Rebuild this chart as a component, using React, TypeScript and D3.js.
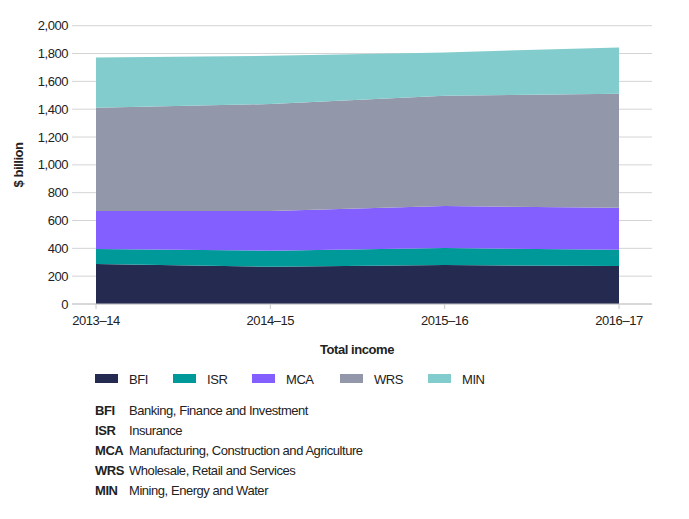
import { useEffect, useRef } from "react";
import * as d3 from "d3";

const years = ["2013–14", "2014–15", "2015–16", "2016–17"];
const keys = ["BFI", "ISR", "MCA", "WRS", "MIN"];
const BFI = [287, 268, 280, 273];
const ISR = [108, 115, 122, 117];
const MCA = [273, 285, 302, 302];
const WRS = [742, 769, 793, 819];
const MIN = [362, 347, 311, 333];
const colors = ["#252b50", "#00999a", "#825ffe", "#9297a9", "#82cccd"];
const yTicks = [0, 200, 400, 600, 800, 1000, 1200, 1400, 1600, 1800, 2000];
const names = [
  "Banking, Finance and Investment",
  "Insurance",
  "Manufacturing, Construction and Agriculture",
  "Wholesale, Retail and Services",
  "Mining, Energy and Water",
];

const FONT = "'Liberation Sans', Arial, sans-serif";
const LS = "-0.45px";

export default function App() {
  const svgRef = useRef(null);

  useEffect(() => {
    const svg = d3.select(svgRef.current);
    svg.selectAll("*").remove();

    const series = [BFI, ISR, MCA, WRS, MIN];
    const rows = years.map((y, i) => {
      const r: any = { year: y };
      keys.forEach((k, j) => (r[k] = series[j][i]));
      return r;
    });
    const stacked = d3.stack().keys(keys)(rows);

    const x = d3.scalePoint().domain(years).range([96, 619]);
    const y = d3.scaleLinear().domain([0, 2000]).range([304, 25.7]);

    // grid
    svg.append("g")
      .selectAll("line")
      .data(yTicks)
      .join("line")
      .attr("x1", 72)
      .attr("x2", 652)
      .attr("y1", (d) => y(d))
      .attr("y2", (d) => y(d))
      .attr("stroke", "#d4d4d4")
      .attr("stroke-width", 1);

    const area = d3.area<any>()
      .x((d) => x(d.data.year)!)
      .y0((d) => y(d[0]))
      .y1((d) => y(d[1]));

    svg.append("g")
      .selectAll("path")
      .data(stacked)
      .join("path")
      .attr("d", area as any)
      .attr("fill", (_, i) => colors[i]);

    const txt = (sel: any) =>
      sel.attr("font-family", FONT)
        .attr("font-size", 13)
        .attr("letter-spacing", LS)
        .attr("fill", "#222");

    // x axis
    const xa = svg.append("g");
    xa.append("line")
      .attr("x1", 72).attr("x2", 652)
      .attr("y1", y(0)).attr("y2", y(0))
      .attr("stroke", "#c8c8c8");
    xa.selectAll("line.tick")
      .data(years)
      .join("line")
      .attr("class", "tick")
      .attr("x1", (d) => x(d)!).attr("x2", (d) => x(d)!)
      .attr("y1", y(0)).attr("y2", y(0) + 5)
      .attr("stroke", "#c8c8c8");
    xa.selectAll("text")
      .data(years)
      .join("text")
      .attr("x", (d) => x(d)!)
      .attr("y", 325)
      .attr("text-anchor", "middle")
      .call(txt)
      .text((d) => d);

    // y labels
    svg.append("g")
      .selectAll("text")
      .data(yTicks)
      .join("text")
      .attr("x", 68)
      .attr("y", (d) => y(d))
      .attr("dy", "0.35em")
      .attr("text-anchor", "end")
      .call(txt)
      .text((d) => d3.format(",")(d));

    svg.append("text")
      .attr("transform", "translate(23,165) rotate(-90)")
      .attr("text-anchor", "middle")
      .call(txt)
      .attr("font-weight", "bold")
      .text("$ billion");

    svg.append("text")
      .attr("x", 357)
      .attr("y", 354)
      .attr("text-anchor", "middle")
      .call(txt)
      .attr("font-weight", "bold")
      .text("Total income");

    // legend
    const legX = [95, 173, 252, 340, 428];
    const leg = svg.append("g")
      .selectAll("g")
      .data(keys)
      .join("g")
      .attr("transform", (_, i) => `translate(${legX[i]},374)`);
    leg.append("rect")
      .attr("width", 23)
      .attr("height", 9)
      .attr("fill", (_, i) => colors[i]);
    leg.append("text")
      .attr("x", 34)
      .attr("y", 10)
      .call(txt)
      .text((d) => d);

    // definitions
    const defs = svg.append("g")
      .selectAll("g")
      .data(keys)
      .join("g")
      .attr("transform", (_, i) => `translate(95,${415 + i * 20})`);
    defs.append("text")
      .call(txt)
      .attr("font-weight", "bold")
      .text((d) => d);
    defs.append("text")
      .attr("x", 34)
      .call(txt)
      .text((_, i) => names[i]);
  }, []);

  return (
    <svg
      ref={svgRef}
      width={689}
      height={519}
      style={{ position: "absolute", left: 0, top: 0, background: "#fff" }}
    />
  );
}
